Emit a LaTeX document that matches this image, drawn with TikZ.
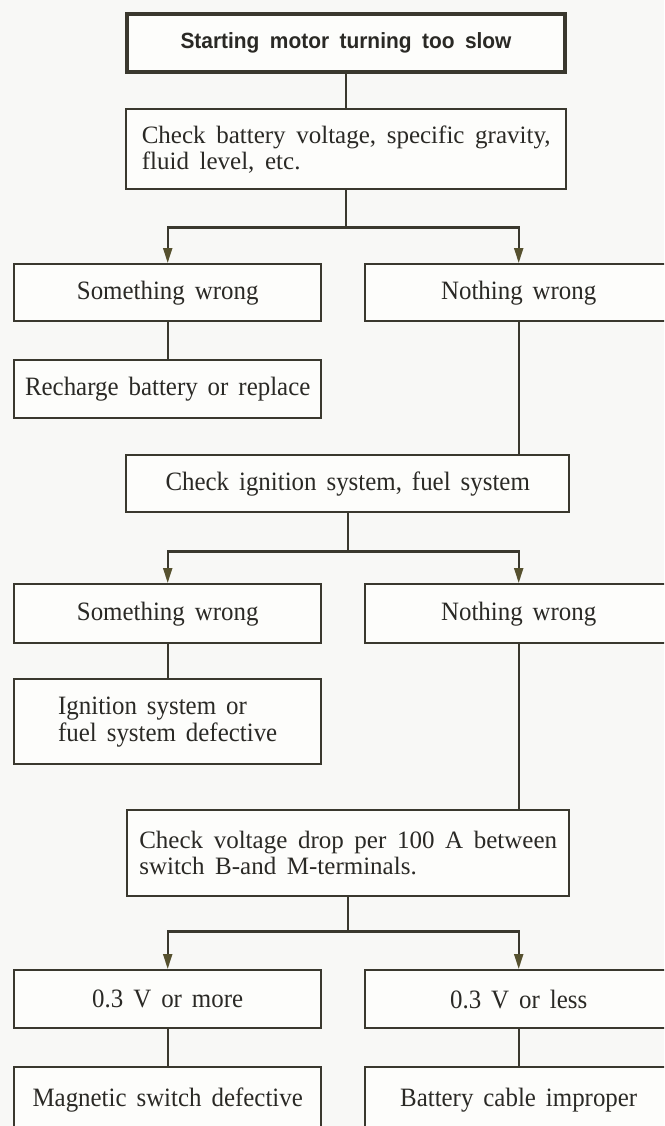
\documentclass[tikz,border=0pt]{standalone}
\usepackage{fontspec}
\setmainfont{Liberation Serif}[WordSpace=1.7]
\newfontfamily\narrowfont{Liberation Serif}[FakeStretch=0.94, WordSpace=1.6]
\newfontfamily\headfont{Liberation Sans}[FakeStretch=0.95, WordSpace=1.8]
\usetikzlibrary{arrows.meta}

\definecolor{ink}{HTML}{3A382E}
\definecolor{tipink}{HTML}{56512F}
\definecolor{txt}{HTML}{2A2925}
\definecolor{pagebg}{HTML}{F8F8F6}
\definecolor{boxbg}{HTML}{FDFDFB}

\begin{document}
\begin{tikzpicture}[x=1pt,y=1pt,
  box/.style={draw=ink, line width=2.4pt, fill=boxbg, text=txt, inner sep=0pt,
              anchor=north west, font=\fontsize{25}{26}\selectfont},
  labelbox/.style={box, font=\narrowfont\fontsize{26.5}{27}\selectfont},
  headbox/.style={box, line width=4pt, font=\headfont\bfseries\fontsize{22}{24}\selectfont},
  link/.style={draw=ink, line width=2.2pt},
  arr/.style={link, -{Triangle[length=15pt,width=9pt,fill=tipink,color=tipink]}}
]
% page and visible area
\useasboundingbox (0,0) rectangle (664,-1126);
\clip (0,0) rectangle (664,-1126);
\fill[pagebg] (0,0) rectangle (664,-1126);

% first check
\node[headbox, minimum width=438, minimum height=58] (start) at (125,-12)
  {Starting motor turning too slow};
\node[box, minimum width=440, minimum height=80, align=left] (bat) at (125,-108)
  {Check battery voltage, specific gravity,\\fluid level, etc.};
\node[labelbox, minimum width=307, minimum height=57] (sw1) at (13,-263) {Something wrong};
\node[labelbox, minimum width=307, minimum height=57] (nw1) at (364,-263) {Nothing wrong};
\node[labelbox, minimum width=307, minimum height=58] (rech) at (13,-359)
  {Recharge battery or replace};

% second check
\node[labelbox, minimum width=443, minimum height=57] (ign) at (125,-454)
  {Check ignition system, fuel system};
\node[labelbox, minimum width=307, minimum height=59] (sw2) at (13,-583) {Something wrong};
\node[labelbox, minimum width=307, minimum height=59] (nw2) at (364,-583) {Nothing wrong};
\node[labelbox, minimum width=307, minimum height=85, align=left] (igd) at (13,-678)
  {Ignition system or\\fuel system defective};

% third check
\node[box, minimum width=442, minimum height=86, align=left] (volt) at (126,-809)
  {Check voltage drop per 100 A between\\switch B-and M-terminals.};
\node[labelbox, minimum width=307, minimum height=58] (more) at (13,-969) {0.3 V or more};
\node[labelbox, minimum width=307, minimum height=58] (less) at (364,-969) {0.3 V or less};
\node[labelbox, minimum width=307, minimum height=66] (mag) at (13,-1066)
  {Magnetic switch defective};
\node[labelbox, minimum width=307, minimum height=66] (cab) at (364,-1066)
  {Battery cable improper};

% connectors
\draw[link] (start.south) -- (start.south |- bat.north);
\draw[link] (bat.south) -- ++(0,-37) coordinate (j1);
\draw[arr] (j1) -| (sw1);
\draw[arr] (j1) -| (nw1);
\draw[link] (sw1) -- (rech);
\draw[link] (nw1.south) -- (nw1.south |- ign.north);

\draw[link] (ign.south) -- ++(0,-38) coordinate (j2);
\draw[arr] (j2) -| (sw2);
\draw[arr] (j2) -| (nw2);
\draw[link] (sw2) -- (igd);
\draw[link] (nw2.south) -- (nw2.south |- volt.north);

\draw[link] (volt.south) -- ++(0,-34) coordinate (j3);
\draw[arr] (j3) -| (more);
\draw[arr] (j3) -| (less);
\draw[link] (more) -- (mag);
\draw[link] (less) -- (cab);
\end{tikzpicture}
\end{document}
